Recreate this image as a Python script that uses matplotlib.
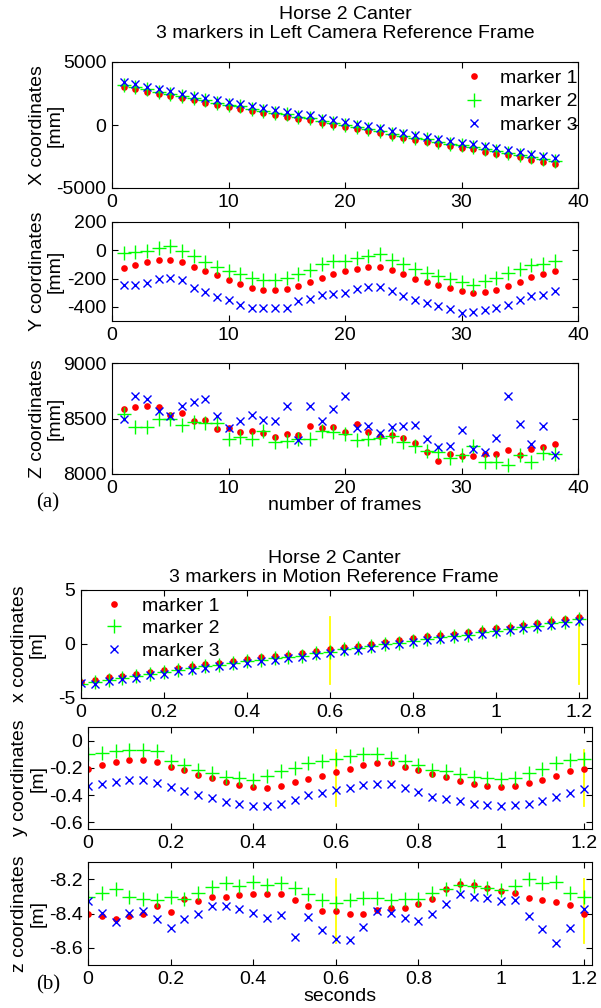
import numpy as np
import matplotlib.pyplot as plt

plt.rcParams['font.family'] = ['Liberation Sans', 'DejaVu Sans']
plt.rcParams['axes.unicode_minus'] = False
plt.rcParams['font.size'] = 14

W, H = 601, 1008

# ---- (a) left camera reference frame, mm ----
frames = np.arange(1, 39)

x_m1 = [3017, 2835, 2652, 2461, 2303, 2120, 1961, 1779, 1588, 1405, 1302, 1112, 953, 794, 667, 453,
        373, 135, 0, -159, -341, -476, -659, -873, -1056, -1215, -1318, -1532, -1667, -1794, -1929,
        -2112, -2271, -2406, -2570, -2740, -2900, -3070]
x_m2 = [3190, 3010, 2830, 2640, 2480, 2300, 2140, 1950, 1770, 1590, 1470, 1290, 1130, 970, 840, 630,
        550, 320, 170, 20, -170, -300, -480, -690, -880, -1040, -1150, -1350, -1490, -1620, -1760,
        -1940, -2100, -2230, -2400, -2570, -2730, -2890]
x_m3 = [3380, 3220, 3010, 2830, 2680, 2490, 2330, 2150, 1960, 1790, 1680, 1480, 1340, 1170, 1050, 850,
        770, 540, 400, 230, 50, -80, -260, -470, -650, -810, -920, -1120, -1260, -1390, -1530,
        -1700, -1860, -1990, -2150, -2330, -2480, -2650]

y_m1 = [-125, -103, -81, -66, -66, -81, -116, -147, -178, -209, -237, -268, -279, -279, -275, -253,
        -222, -196, -171, -147, -134, -119, -119, -141, -170, -200, -222, -244, -266, -288, -301,
        -297, -279, -253, -222, -191, -170, -147]
y_m2 = [-22, -15, -7, 15, 33, -7, -37, -81, -116, -143, -165, -198, -213, -213, -198, -170,
        -138, -95, -77, -73, -55, -37, -29, -66, -99, -132, -160, -182, -204, -226, -242,
        -220, -198, -160, -132, -103, -95, -77]
y_m3 = [-248, -242, -231, -204, -198, -213, -264, -297, -330, -352, -385, -407, -411, -411, -407, -358,
        -341, -319, -310, -301, -275, -259, -259, -288, -323, -352, -374, -396, -418, -446, -435,
        -424, -407, -389, -352, -323, -319, -286]

z_m1 = [8587, 8600, 8609, 8600, 8528, 8547, 8478, 8490, 8409, 8416, 8381, 8390, 8366, 8334, 8356, 8347,
        8431, 8412, 8422, 8381, 8453, 8381, 8344, 8350, 8328, 8275, 8194, 8119, 8181, 8162, 8162,
        8181, 8184, 8219, 8172, 8222, 8244, 8272]
z_m2 = [8540, 8422, 8422, 8500, 8497, 8437, 8466, 8459, 8459, 8319, 8334, 8319, 8390, 8291, 8297, 8312,
        8319, 8390, 8375, 8359, 8303, 8312, 8322, 8344, 8287, 8256, 8209, 8197, 8147, 8172, 8256,
        8109, 8109, 8084, 8172, 8109, 8187, 8178]
z_m3 = [8491, 8703, 8672, 8569, 8522, 8616, 8647, 8678, 8522, 8416, 8478, 8528, 8484, 8478, 8616, 8303,
        8616, 8478, 8587, 8703, 8416, 8428, 8372, 8422, 8431, 8441, 8312, 8244, 8250, 8400, 8228,
        8197, 8328, 8703, 8453, 8266, 8431, 8172]

# ---- (b) motion reference frame, m ----
seconds = np.arange(37) / 30.0
event_times = [0.6, 1.2]

mx_m1 = [-3.49, -3.33, -3.08, -2.93, -2.78, -2.56, -2.41, -2.19, -2.04, -1.85, -1.73, -1.57, -1.39,
         -1.23, -1.11, -0.99, -0.86, -0.65, -0.49, -0.28, -0.19, 0.0, 0.22, 0.34, 0.52, 0.71, 0.83,
         0.95, 1.08, 1.30, 1.45, 1.60, 1.78, 1.93, 2.12, 2.27, 2.50]
mx_m2 = [-3.70, -3.55, -3.30, -3.15, -3.00, -2.78, -2.63, -2.41, -2.26, -2.07, -1.95, -1.79, -1.61,
         -1.45, -1.33, -1.21, -1.08, -0.87, -0.71, -0.50, -0.41, -0.22, 0.00, 0.12, 0.30, 0.49, 0.61,
         0.73, 0.86, 1.08, 1.23, 1.38, 1.56, 1.71, 1.90, 2.05, 2.30]
mx_m3 = [-3.62, -3.66, -3.42, -3.27, -3.11, -2.89, -2.74, -2.52, -2.37, -2.18, -2.06, -1.90, -1.72,
         -1.56, -1.44, -1.32, -1.19, -0.98, -0.82, -0.61, -0.52, -0.33, -0.11, 0.01, 0.19, 0.38, 0.50,
         0.62, 0.75, 0.97, 1.12, 1.27, 1.45, 1.60, 1.79, 1.94, 2.17]

my_m1 = [-0.207, -0.183, -0.158, -0.143, -0.143, -0.158, -0.193, -0.217, -0.252, -0.277, -0.306,
         -0.326, -0.341, -0.351, -0.333, -0.306, -0.284, -0.259, -0.232, -0.210, -0.183, -0.168,
         -0.168, -0.193, -0.217, -0.242, -0.267, -0.294, -0.316, -0.331, -0.341, -0.333, -0.314,
         -0.291, -0.257, -0.222, -0.207]
my_m2 = [-0.099, -0.091, -0.079, -0.067, -0.072, -0.079, -0.153, -0.183, -0.215, -0.240, -0.269,
         -0.272, -0.289, -0.257, -0.227, -0.198, -0.168, -0.148, -0.133, -0.116, -0.099, -0.096,
         -0.128, -0.153, -0.178, -0.215, -0.227, -0.247, -0.264, -0.277, -0.284, -0.272, -0.240,
         -0.207, -0.168, -0.146, -0.133]
my_m3 = [-0.331, -0.319, -0.306, -0.291, -0.291, -0.309, -0.338, -0.368, -0.400, -0.425, -0.449,
         -0.469, -0.479, -0.479, -0.464, -0.437, -0.400, -0.383, -0.365, -0.351, -0.326, -0.321,
         -0.321, -0.351, -0.380, -0.412, -0.430, -0.444, -0.464, -0.474, -0.479, -0.474, -0.467,
         -0.442, -0.412, -0.388, -0.356]

mz_m1 = [-8.400, -8.416, -8.433, -8.416, -8.404, -8.357, -8.390, -8.318, -8.325, -8.302, -8.302,
         -8.292, -8.286, -8.286, -8.286, -8.322, -8.357, -8.384, -8.384, -8.404, -8.404, -8.380,
         -8.367, -8.367, -8.345, -8.314, -8.257, -8.227, -8.233, -8.253, -8.269, -8.278, -8.308,
         -8.322, -8.333, -8.353, -8.400]
mz_m2 = [-8.302, -8.278, -8.259, -8.302, -8.318, -8.322, -8.306, -8.318, -8.282, -8.243, -8.220,
         -8.239, -8.214, -8.233, -8.224, -8.253, -8.286, -8.322, -8.341, -8.322, -8.312, -8.312,
         -8.322, -8.318, -8.318, -8.278, -8.259, -8.233, -8.239, -8.253, -8.263, -8.239, -8.200,
         -8.224, -8.214, -8.282, -8.306]
mz_m3 = [-8.327, -8.396, -8.449, -8.396, -8.386, -8.433, -8.484, -8.433, -8.400, -8.355, -8.355,
         -8.376, -8.396, -8.425, -8.410, -8.537, -8.420, -8.494, -8.547, -8.553, -8.478, -8.384,
         -8.396, -8.424, -8.445, -8.400, -8.347, -8.286, -8.302, -8.312, -8.327, -8.322, -8.414,
         -8.488, -8.571, -8.484, -8.375]

sec_ticks = [0, 0.2, 0.4, 0.6, 0.8, 1.0, 1.2]
sec_labels = ['0', '0.2', '0.4', '0.6', '0.8', '1', '1.2']

fig = plt.figure(figsize=(W / 100, H / 100), dpi=100)


def box(l, r, t, b):
    # pixel box -> figure fraction
    return fig.add_axes([l / W, 1 - b / H, (r - l) / W, (b - t) / H])


def style(ax):
    ax.tick_params(direction='in', top=True, right=True, length=4, width=0.8, pad=4)
    for s in ax.spines.values():
        s.set_linewidth(0.8)


def scatter3(ax, x, a, b, c):
    ax.plot(x, a, 'o', color='red', ms=4.8, mec='none', label='marker 1')
    ax.plot(x, b, '+', color='#00ff00', ms=9.5, mew=1.0, label='marker 2')
    ax.plot(x, c, 'x', color='blue', ms=6.2, mew=1.0, label='marker 3')


def events(ax, a, b, c):
    lo = min(min(a), min(b), min(c))
    hi = max(max(a), max(b), max(c))
    for t in event_times:
        ax.plot([t, t], [lo, hi], color='yellow', lw=1.3, zorder=1)


def title(cx, cy, txt):
    fig.text(cx / W, 1 - cy / H, txt, ha='center', va='center', linespacing=1.2)


serif = ['Liberation Serif', 'DejaVu Serif']

# ---- panel (a) ----
ax1 = box(112, 578, 62, 188)
ax2 = box(112, 578, 222, 321)
ax3 = box(112, 578, 363, 474)

scatter3(ax1, frames, x_m1, x_m2, x_m3)
scatter3(ax2, frames, y_m1, y_m2, y_m3)
scatter3(ax3, frames, z_m1, z_m2, z_m3)

ax1.set_ylim(-5000, 5000)
ax1.set_yticks([-5000, 0, 5000])
ax2.set_ylim(-500, 200)
ax2.set_yticks([-400, -200, 0, 200])
ax3.set_ylim(8000, 9000)
ax3.set_yticks([8000, 8500, 9000])
for ax, lab in zip([ax1, ax2, ax3], ['X', 'Y', 'Z']):
    ax.set_xlim(0, 40)
    ax.set_xticks([0, 10, 20, 30, 40])
    style(ax)
    ax.set_ylabel(lab + ' coordinates\n[mm]', linespacing=1.1)
    ax.yaxis.set_label_coords(-0.103, 0.5)

title(345, 24, 'Horse 2 Canter\n3 markers in Left Camera Reference Frame')
ax1.legend(loc='upper left', bbox_to_anchor=((459 - 112) / 466, (188 - 69) / 126), frameon=False,
           borderpad=0, borderaxespad=0, handlelength=1.5, handletextpad=0.6, labelspacing=0.32)
ax3.set_xlabel('number of frames', labelpad=0)
fig.text(48 / W, 1 - 503 / H, '(a)', family=serif, fontsize=15, ha='center', va='center')

# ---- panel (b) ----
ax4 = box(81, 587, 590, 698)
ax5 = box(88, 592, 727, 829)
ax6 = box(88, 592, 862, 965)

events(ax4, mx_m1, mx_m2, mx_m3)
events(ax5, my_m1, my_m2, my_m3)
events(ax6, mz_m1, mz_m2, mz_m3)
scatter3(ax4, seconds, mx_m1, mx_m2, mx_m3)
scatter3(ax5, seconds, my_m1, my_m2, my_m3)
scatter3(ax6, seconds, mz_m1, mz_m2, mz_m3)

ax4.set_ylim(-5, 5)
ax4.set_yticks([-5, 0, 5])
ax5.set_ylim(-0.65, 0.1)
ax5.set_yticks([-0.6, -0.4, -0.2, 0])
ax5.set_yticklabels(['-0.6', '-0.4', '-0.2', '0'])
ax6.set_ylim(-8.7, -8.1)
ax6.set_yticks([-8.6, -8.4, -8.2])
for ax, lab, lx in zip([ax4, ax5, ax6], ['x', 'y', 'z'], [-0.069, -0.083, -0.083]):
    ax.set_xlim(0, 1.22)
    ax.set_xticks(sec_ticks)
    ax.set_xticklabels(sec_labels)
    style(ax)
    ax.set_ylabel(lab + ' coordinates\n[m]', linespacing=1.1)
    ax.yaxis.set_label_coords(lx, 0.5)

title(334, 568, 'Horse 2 Canter\n3 markers in Motion Reference Frame')
ax4.legend(loc='upper left', bbox_to_anchor=((99 - 81) / 506, (698 - 597) / 108), frameon=False,
           borderpad=0, borderaxespad=0, handlelength=1.5, handletextpad=0.7, labelspacing=0.25)
ax6.set_xlabel('seconds', labelpad=0)
fig.text(48 / W, 1 - 985 / H, '(b)', family=serif, fontsize=15, ha='center', va='center')

fig.savefig('out.png', dpi=100)
